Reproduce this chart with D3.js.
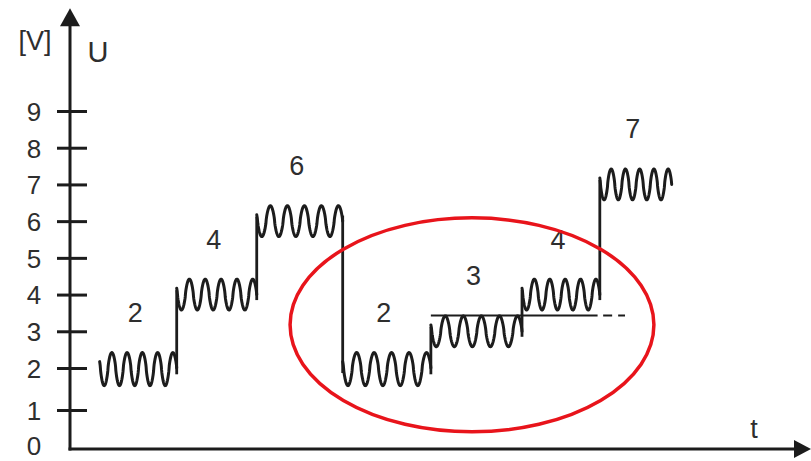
<!DOCTYPE html>
<html>
<head>
<meta charset="utf-8">
<script src="https://cdn.jsdelivr.net/npm/d3@7/dist/d3.min.js"></script>
<style>
  html, body { margin: 0; padding: 0; background: #fff; }
  svg { display: block; font-family: "Liberation Sans", Arial, sans-serif; }
</style>
</head>
<body>
<svg id="chart" width="811" height="461"></svg>
<script>
// Stepped voltage levels with ripple, one level per time interval
const levels = [2, 4, 6, 2, 3, 4, 7];
// Interval boundaries on the time axis (arbitrary units)
const bounds = [4.0, 14.4, 25.2, 36.8, 48.7, 61.0, 71.5, 81.2];
// Voltage axis tick labels
const yTicks = [0, 1, 2, 3, 4, 5, 6, 7, 8, 9];
// Ripple riding on each level
const rippleAmp = 0.42;      // volts
const ripplePeaks = 5;       // peaks per interval
// Reference level through the circled region: solid part, then dashed tail
const refLevel = 3.43;
const refSolid = [48.7, 71.2];
const refDashed = [71.95, 74.9];
// Highlighted region (time range, voltage range)
const highlightT = [29.7, 78.8];
const highlightV = [0.44, 6.09];

const svg = d3.select("#chart");
const ink = "#1c1c1c";
const textInk = "#2e2e2e";

const x = d3.scaleLinear().domain([0, 100]).range([70, 811]);
const y = d3.scaleLinear().domain([0, 1, 2, 9]).range([449, 410, 368, 111]);
const yTop = 11.8;

// ----- axes -----
const yAxis = d3.axisLeft(y).tickValues(yTicks).tickSize(13).tickPadding(24)
  .tickFormat(d3.format("d"));
const gy = svg.append("g").attr("transform", `translate(${x(0)},0)`).call(yAxis);
gy.select(".domain").remove();
gy.selectAll(".tick line")
  .attr("x1", 17).attr("x2", -13)
  .attr("stroke", ink).attr("stroke-width", 3)
  .filter(d => d === 0).remove();
gy.selectAll(".tick text")
  .attr("fill", textInk)
  .attr("font-size", 26)
  .attr("text-anchor", "middle")
  .attr("x", -36)
  .attr("dy", "0.36em");
gy.selectAll(".tick").filter(d => d === 0).select("text").attr("dy", "0.22em");

// vertical axis line with arrow
svg.append("line")
  .attr("x1", x(0)).attr("x2", x(0))
  .attr("y1", y(0) + 1.5).attr("y2", y(yTop) + 14)
  .attr("stroke", ink).attr("stroke-width", 3);
svg.append("path")
  .attr("d", `M${x(0)},${y(yTop)} L${x(0) - 10},${y(yTop) + 18} L${x(0) + 10},${y(yTop) + 18} Z`)
  .attr("fill", ink);

// horizontal axis line with arrow
svg.append("line")
  .attr("x1", x(0) - 1.5).attr("x2", x(100) - 12)
  .attr("y1", y(0)).attr("y2", y(0))
  .attr("stroke", ink).attr("stroke-width", 3);
svg.append("path")
  .attr("d", `M${x(100)},${y(0)} L${x(100) - 17},${y(0) - 9} L${x(100) - 17},${y(0) + 9} Z`)
  .attr("fill", ink);

// axis titles
svg.append("text").attr("x", 35).attr("y", 50).attr("text-anchor", "middle")
  .attr("font-size", 27).attr("fill", textInk).text("[V]");
svg.append("text").attr("x", 98).attr("y", 62).attr("text-anchor", "middle")
  .attr("font-size", 29).attr("fill", textInk).text("U");
svg.append("text").attr("x", 754).attr("y", 438).attr("text-anchor", "middle")
  .attr("font-size", 27).attr("fill", textInk).text("t");

// ----- signal -----
const line = d3.line().x(d => x(d[0])).y(d => y(d[1]));
// slightly flattened sine so the crests look round and broad
const ripple = th => { const c = Math.cos(th); return Math.sign(c) * Math.pow(Math.abs(c), 0.75); };

levels.forEach((lv, i) => {
  const t0 = bounds[i], t1 = bounds[i + 1];
  const period = (t1 - t0) / (ripplePeaks + 0.05);
  const firstPeak = t0 + 0.8 * period;
  const pts = [];
  const n = 300;
  for (let k = 0; k <= n; k++) {
    const t = t0 + (t1 - t0) * k / n;
    pts.push([t, lv + rippleAmp * ripple(2 * Math.PI * (t - firstPeak) / period)]);
  }
  svg.append("path")
    .attr("d", line(pts))
    .attr("fill", "none")
    .attr("stroke", ink)
    .attr("stroke-width", 3)
    .attr("stroke-linejoin", "round")
    .attr("stroke-linecap", "round");

  // level label above the interval
  svg.append("text")
    .attr("x", x((t0 + t1) / 2) - 3)
    .attr("y", y(lv) - 46)
    .attr("text-anchor", "middle")
    .attr("font-size", 27)
    .attr("fill", textInk)
    .text(String(lv));
});

// vertical steps between levels
levels.slice(1).forEach((lv, i) => {
  const prev = levels[i];
  const t = bounds[i + 1];
  const dir = lv > prev ? 1 : -1;
  svg.append("line")
    .attr("x1", x(t)).attr("x2", x(t))
    .attr("y1", y(prev - dir * 0.15))
    .attr("y2", y(lv + dir * 0.12))
    .attr("stroke", ink)
    .attr("stroke-width", 2.8);
});

// reference level
svg.append("line")
  .attr("x1", x(refSolid[0])).attr("x2", x(refSolid[1]))
  .attr("y1", y(refLevel)).attr("y2", y(refLevel))
  .attr("stroke", ink).attr("stroke-width", 2);
svg.append("line")
  .attr("x1", x(refDashed[0])).attr("x2", x(refDashed[1]))
  .attr("y1", y(refLevel)).attr("y2", y(refLevel))
  .attr("stroke", ink).attr("stroke-width", 2)
  .attr("stroke-dasharray", "9,6");

// highlight ellipse
const ex0 = x(highlightT[0]), ex1 = x(highlightT[1]);
const ey0 = y(highlightV[1]), ey1 = y(highlightV[0]);
svg.append("ellipse")
  .attr("cx", (ex0 + ex1) / 2).attr("cy", (ey0 + ey1) / 2)
  .attr("rx", (ex1 - ex0) / 2).attr("ry", (ey1 - ey0) / 2)
  .attr("fill", "none")
  .attr("stroke", "#e8141b")
  .attr("stroke-width", 3.5);
</script>
</body>
</html>
